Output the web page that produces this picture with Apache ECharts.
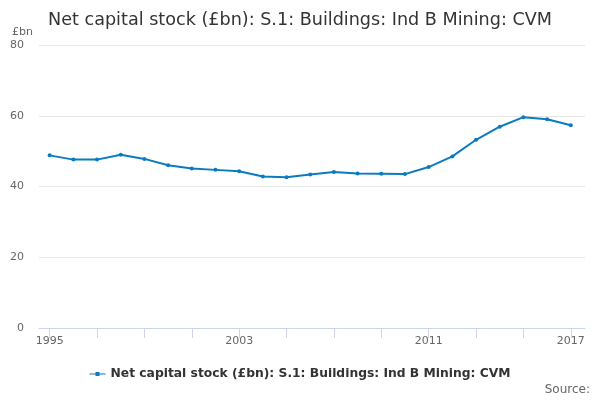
<!DOCTYPE html>
<html>
<head>
<meta charset="utf-8">
<script src="https://cdn.jsdelivr.net/npm/echarts@6/dist/echarts.min.js"></script>
<style>
  html, body { margin: 0; padding: 0; background: #fff; }
  #chart { width: 600px; height: 400px; }
</style>
</head>
<body>
<div id="chart"></div>
<script>
// chart data
let years = [1995, 1996, 1997, 1998, 1999, 2000, 2001, 2002, 2003, 2004, 2005, 2006,
    2007, 2008, 2009, 2010, 2011, 2012, 2013, 2014, 2015, 2016, 2017];
let stock = [48.8, 47.6, 47.6, 49.0, 47.8, 46.0, 45.1, 44.7, 44.3, 42.8, 42.6, 43.4,
    44.1, 43.7, 43.6, 43.5, 45.5, 48.5, 53.2, 56.9, 59.6, 59.0, 57.3];
let tickYears = [1995, 1997, 1999, 2001, 2003, 2005, 2007, 2009, 2011, 2013, 2015, 2017];
let labelYears = [1995, 2003, 2011, 2017];
let seriesName = "Net capital stock (£bn): S.1: Buildings: Ind B Mining: CVM";

var myChart = echarts.init(document.getElementById("chart"));
var font = "DejaVu Sans";

var option = {
    animation: false,
    textStyle: { fontFamily: font },
    title: {
        text: seriesName,
        left: 43,
        top: 6,
        textStyle: { fontSize: 17.6, fontWeight: 'normal', color: '#333', fontFamily: font }
    },
    legend: {
        bottom: 15,
        left: 'center',
        itemWidth: 16,
        itemHeight: 8,
        itemGap: 5,
        textStyle: { fontSize: 12.3, fontWeight: 'bold', color: '#333', fontFamily: font },
        data: [{ name: seriesName, icon: 'path://M0,3.5 L16,3.5 L16,4.5 L0,4.5 Z M6,2 L10,2 L10,6 L6,6 Z' }]
    },
    graphic: [
        { type: 'text', left: 12, top: 27, style: { text: '£bn', fontSize: 11, fill: '#666', fontFamily: font } },
        { type: 'text', right: 10, top: 384, style: { text: 'Source:', fontSize: 12, fill: '#666', fontFamily: font } }
    ],
    grid: { left: 39, right: 15, top: 45, bottom: 72 },
    xAxis: {
        type: 'value',
        min: 1994.55,
        max: 2017.6,
        splitLine: { show: false },
        axisLine: { lineStyle: { color: '#ccd6eb' } },
        axisTick: { show: true, length: 10, lineStyle: { color: '#ccd6eb' }, customValues: tickYears },
        axisLabel: {
            customValues: labelYears,
            formatter: v => String(v),
            color: '#666', fontSize: 11, margin: 8, fontFamily: font
        }
    },
    yAxis: {
        type: 'value',
        min: 0,
        max: 80,
        interval: 20,
        axisLine: { show: false },
        axisTick: { show: false },
        splitLine: { lineStyle: { color: '#e6e6e6' } },
        axisLabel: { color: '#666', fontSize: 11, margin: 15, fontFamily: font }
    },
    series: [{
        name: seriesName,
        type: 'line',
        data: years.map((y, i) => [y, stock[i]]),
        symbol: 'circle',
        symbolSize: 4,
        lineStyle: { color: '#0a7bc1', width: 2 },
        itemStyle: { color: '#0a7bc1' }
    }]
};

myChart.setOption(option);
</script>
</body>
</html>
